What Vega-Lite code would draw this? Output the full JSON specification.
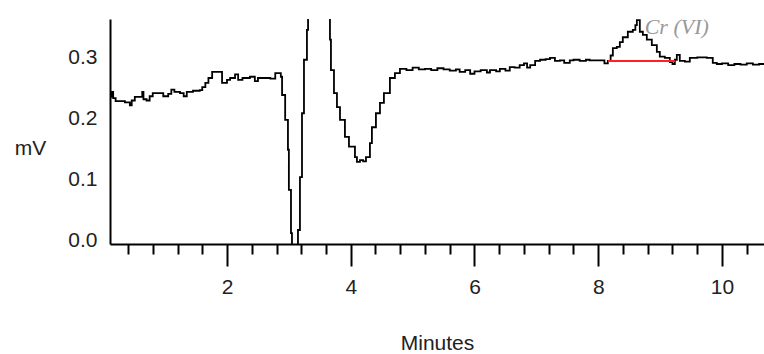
{
  "$schema": "https://vega.github.io/schema/vega-lite/v6.json",
  "width": 654,
  "height": 225,
  "autosize": {"type": "none"},
  "padding": {"left": 110, "top": 19, "right": 0, "bottom": 110},
  "background": "white",
  "config": {"view": {"stroke": null}, "font": "Liberation Sans"},
  "datasets": {
    "trace": [
      {"t": 0.11, "v": 0.242}, {"t": 0.14, "v": 0.250}, {"t": 0.16, "v": 0.240}, {"t": 0.20, "v": 0.235},
      {"t": 0.27, "v": 0.235}, {"t": 0.35, "v": 0.233}, {"t": 0.43, "v": 0.228}, {"t": 0.46, "v": 0.236},
      {"t": 0.51, "v": 0.242}, {"t": 0.59, "v": 0.242}, {"t": 0.63, "v": 0.250}, {"t": 0.65, "v": 0.238},
      {"t": 0.70, "v": 0.236}, {"t": 0.75, "v": 0.243}, {"t": 0.80, "v": 0.248}, {"t": 0.92, "v": 0.248},
      {"t": 0.97, "v": 0.243}, {"t": 1.05, "v": 0.247}, {"t": 1.10, "v": 0.254}, {"t": 1.15, "v": 0.250},
      {"t": 1.24, "v": 0.248}, {"t": 1.30, "v": 0.243}, {"t": 1.35, "v": 0.250}, {"t": 1.45, "v": 0.252},
      {"t": 1.56, "v": 0.253}, {"t": 1.60, "v": 0.258}, {"t": 1.65, "v": 0.265}, {"t": 1.70, "v": 0.273},
      {"t": 1.76, "v": 0.283}, {"t": 1.85, "v": 0.283}, {"t": 1.92, "v": 0.265}, {"t": 2.00, "v": 0.270},
      {"t": 2.05, "v": 0.273}, {"t": 2.13, "v": 0.279}, {"t": 2.18, "v": 0.270}, {"t": 2.25, "v": 0.273},
      {"t": 2.37, "v": 0.275}, {"t": 2.45, "v": 0.268}, {"t": 2.50, "v": 0.273}, {"t": 2.60, "v": 0.273},
      {"t": 2.70, "v": 0.272}, {"t": 2.78, "v": 0.281}, {"t": 2.85, "v": 0.281}, {"t": 2.87, "v": 0.275},
      {"t": 2.89, "v": 0.245}, {"t": 2.94, "v": 0.204}, {"t": 2.985, "v": 0.155}, {"t": 3.00, "v": 0.089},
      {"t": 3.034, "v": 0.018}, {"t": 3.05, "v": -0.05}, {"t": 3.12, "v": -0.05}, {"t": 3.147, "v": 0.023},
      {"t": 3.179, "v": 0.110}, {"t": 3.212, "v": 0.215}, {"t": 3.244, "v": 0.303}, {"t": 3.292, "v": 0.352},
      {"t": 3.31, "v": 0.375}, {"t": 3.37, "v": 0.5}, {"t": 3.47, "v": 0.6}, {"t": 3.57, "v": 0.5},
      {"t": 3.648, "v": 0.373}, {"t": 3.664, "v": 0.336}, {"t": 3.68, "v": 0.286}, {"t": 3.729, "v": 0.248},
      {"t": 3.777, "v": 0.225}, {"t": 3.826, "v": 0.204}, {"t": 3.906, "v": 0.176}, {"t": 3.971, "v": 0.160},
      {"t": 4.068, "v": 0.143}, {"t": 4.10, "v": 0.135}, {"t": 4.149, "v": 0.138}, {"t": 4.20, "v": 0.136},
      {"t": 4.246, "v": 0.143}, {"t": 4.310, "v": 0.166}, {"t": 4.342, "v": 0.192}, {"t": 4.407, "v": 0.215},
      {"t": 4.472, "v": 0.232}, {"t": 4.536, "v": 0.248}, {"t": 4.633, "v": 0.273}, {"t": 4.714, "v": 0.281},
      {"t": 4.795, "v": 0.288}, {"t": 4.90, "v": 0.286}, {"t": 5.00, "v": 0.290}, {"t": 5.10, "v": 0.287},
      {"t": 5.20, "v": 0.288}, {"t": 5.30, "v": 0.286}, {"t": 5.40, "v": 0.289}, {"t": 5.50, "v": 0.287},
      {"t": 5.60, "v": 0.285}, {"t": 5.70, "v": 0.287}, {"t": 5.76, "v": 0.283}, {"t": 5.85, "v": 0.286},
      {"t": 5.93, "v": 0.280}, {"t": 6.00, "v": 0.284}, {"t": 6.10, "v": 0.286}, {"t": 6.20, "v": 0.282},
      {"t": 6.25, "v": 0.286}, {"t": 6.35, "v": 0.284}, {"t": 6.41, "v": 0.288}, {"t": 6.50, "v": 0.285},
      {"t": 6.57, "v": 0.291}, {"t": 6.65, "v": 0.290}, {"t": 6.73, "v": 0.294}, {"t": 6.80, "v": 0.297},
      {"t": 6.85, "v": 0.290}, {"t": 6.90, "v": 0.294}, {"t": 6.98, "v": 0.301}, {"t": 7.06, "v": 0.303},
      {"t": 7.15, "v": 0.304}, {"t": 7.22, "v": 0.306}, {"t": 7.30, "v": 0.301}, {"t": 7.38, "v": 0.302},
      {"t": 7.45, "v": 0.298}, {"t": 7.54, "v": 0.302}, {"t": 7.60, "v": 0.303}, {"t": 7.70, "v": 0.301},
      {"t": 7.80, "v": 0.303}, {"t": 7.86, "v": 0.302}, {"t": 8.03, "v": 0.302}, {"t": 8.10, "v": 0.297},
      {"t": 8.155, "v": 0.301}, {"t": 8.20, "v": 0.310}, {"t": 8.236, "v": 0.322}, {"t": 8.30, "v": 0.324},
      {"t": 8.349, "v": 0.332}, {"t": 8.397, "v": 0.340}, {"t": 8.478, "v": 0.349}, {"t": 8.559, "v": 0.352},
      {"t": 8.60, "v": 0.360}, {"t": 8.624, "v": 0.368}, {"t": 8.672, "v": 0.349}, {"t": 8.721, "v": 0.344},
      {"t": 8.785, "v": 0.336}, {"t": 8.866, "v": 0.327}, {"t": 8.947, "v": 0.316}, {"t": 8.995, "v": 0.308},
      {"t": 9.076, "v": 0.306}, {"t": 9.157, "v": 0.299}, {"t": 9.20, "v": 0.296}, {"t": 9.238, "v": 0.303},
      {"t": 9.27, "v": 0.311}, {"t": 9.318, "v": 0.301}, {"t": 9.40, "v": 0.300}, {"t": 9.48, "v": 0.306},
      {"t": 9.60, "v": 0.307}, {"t": 9.754, "v": 0.306}, {"t": 9.851, "v": 0.298}, {"t": 9.916, "v": 0.296},
      {"t": 10.00, "v": 0.297}, {"t": 10.10, "v": 0.294}, {"t": 10.20, "v": 0.296}, {"t": 10.30, "v": 0.295},
      {"t": 10.40, "v": 0.297}, {"t": 10.50, "v": 0.295}, {"t": 10.60, "v": 0.296}, {"t": 10.70, "v": 0.296}
    ],
    "baseline": [{"t": 8.155, "v": 0.301}, {"t": 9.24, "v": 0.301}],
    "labels": [{"t": 8.75, "v": 0.357, "label": "Cr (VI)"}]
  },
  "layer": [
    {
      "data": {"name": "trace"},
      "mark": {"type": "line", "interpolate": "step-after", "color": "black", "strokeWidth": 1.8, "clip": true},
      "encoding": {
        "x": {
          "field": "t", "type": "quantitative",
          "scale": {"domain": [0.109, 10.679], "nice": false, "zero": false},
          "axis": {
            "title": "Minutes",
            "values": [0.4, 0.8, 1.2, 1.6, 2, 2.4, 2.8, 3.2, 3.6, 4, 4.4, 4.8, 5.2, 5.6, 6, 6.4, 6.8, 7.2, 7.6, 8, 8.4, 8.8, 9.2, 9.6, 10, 10.4],
            "tickCount": 40,
            "labelExpr": "abs(datum.value - 2 * round(datum.value / 2)) < 0.01 ? format(datum.value, 'd') : ''",
            "labelOverlap": false,
            "labelFontSize": 21,
            "labelColor": "#222",
            "labelPadding": 10,
            "tickSize": {"condition": {"test": "abs(datum.value - 2 * round(datum.value / 2)) < 0.01", "value": 22}, "value": 10},
            "tickColor": "black",
            "tickWidth": 2,
            "domainColor": "black",
            "domainWidth": 2,
            "grid": false,
            "titleFontSize": 21,
            "titleFontWeight": "normal",
            "titleColor": "#222",
            "titlePadding": 35
          }
        },
        "y": {
          "field": "v", "type": "quantitative",
          "scale": {"domain": [0, 0.37], "nice": false, "zero": false},
          "axis": {
            "title": "mV",
            "values": [0, 0.1, 0.2, 0.3],
            "format": ".1f",
            "ticks": false,
            "labelPadding": 13,
            "labelOffset": -4,
            "labelFontSize": 21,
            "labelColor": "#222",
            "domainColor": "black",
            "domainWidth": 2,
            "grid": false,
            "titleAngle": 0,
            "titleFontSize": 21,
            "titleFontWeight": "normal",
            "titleColor": "#222",
            "titleAlign": "center",
            "titleBaseline": "middle",
            "titleX": -80,
            "titleY": 129
          }
        }
      }
    },
    {
      "data": {"name": "baseline"},
      "mark": {"type": "line", "color": "#ff2020", "strokeWidth": 2},
      "encoding": {
        "x": {"field": "t", "type": "quantitative"},
        "y": {"field": "v", "type": "quantitative"}
      }
    },
    {
      "data": {"name": "labels"},
      "mark": {"type": "text", "align": "left", "baseline": "middle", "font": "Liberation Serif", "fontStyle": "italic", "fontSize": 22, "color": "#999"},
      "encoding": {
        "x": {"field": "t", "type": "quantitative"},
        "y": {"field": "v", "type": "quantitative"},
        "text": {"field": "label"}
      }
    }
  ]
}
